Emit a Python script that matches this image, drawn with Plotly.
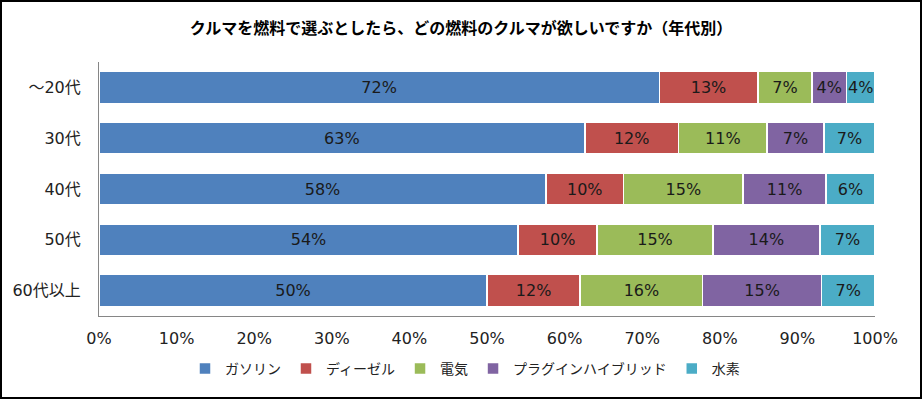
import plotly.graph_objects as go

categories = ["～20代", "30代", "40代", "50代", "60代以上"]
series_names = ["ガソリン", "ディーゼル", "電気", "プラグインハイブリッド", "水素"]
gasoline = [72.2, 62.6, 57.6, 54.0, 50.0]
diesel = [12.7, 12.1, 10.0, 10.2, 12.0]
electric = [7.0, 11.4, 15.4, 14.9, 15.8]
phev = [4.4, 7.3, 10.7, 13.8, 15.3]
hydrogen = [3.7, 6.6, 6.3, 7.1, 6.9]
x_ticks = [0, 10, 20, 30, 40, 50, 60, 70, 80, 90, 100]
x_tick_labels = [f"{v}%" for v in x_ticks]
title_text = "クルマを燃料で選ぶとしたら、どの燃料のクルマが欲しいですか（年代別）"

colors = ["#4F81BD", "#C0504D", "#9BBB59", "#8064A2", "#4BACC6"]
FONT = "Noto Sans CJK JP"
WFONT = "DejaVu Sans, Noto Sans CJK JP"

fig = go.Figure()
for name, vals, col in zip(series_names, [gasoline, diesel, electric, phev, hydrogen], colors):
    fig.add_trace(go.Bar(
        y=categories, x=vals, name=name, orientation="h",
        marker=dict(color=col, line=dict(color="white", width=1.5)),
        texttemplate="%{x:.0f}%", textposition="inside", insidetextanchor="middle",
        textangle=0, constraintext="none",
        textfont=dict(family=WFONT, size=16, color="#1a1a1a"),
        hoverinfo="skip",
    ))

W, H = 922, 399
ml, mr, mt, mb = 99, 47, 62, 83
pw, ph = W - ml - mr, H - mt - mb

fig.update_layout(
    barmode="stack",
    width=W, height=H,
    margin=dict(l=ml, r=mr, t=mt, b=mb),
    paper_bgcolor="white", plot_bgcolor="white",
    bargap=0.37,
    uniformtext=dict(minsize=16, mode="show"),
    title=dict(text=f"<b>{title_text}</b>", x=(461 / W), xanchor="center", y=1 - 28 / H, yanchor="middle",
               font=dict(family=FONT, size=16, color="black")),
    xaxis=dict(range=[0, 100], tickvals=x_ticks, ticktext=x_tick_labels, showgrid=False,
               zeroline=False, showline=True, linecolor="#868686", linewidth=1,
               tickfont=dict(family=WFONT, size=16, color="#222"), ticks="", ticklen=0,
               ticklabelstandoff=8),
    yaxis=dict(autorange="reversed", showgrid=False, showline=True, linecolor="#868686",
               linewidth=1, tickfont=dict(family=WFONT, size=16, color="#222"), ticks="",
               ticklabelstandoff=14),
    legend=dict(orientation="h", x=(465 - ml) / pw, xanchor="center", y=-(369 - (mt + ph)) / ph,
                yanchor="middle", font=dict(family=FONT, size=14, color="#222"),
                itemwidth=30, traceorder="normal", tracegroupgap=0),
    showlegend=True,
)

fig.add_shape(type="rect", xref="paper", yref="paper",
              x0=-(ml - 1) / pw, x1=1 + (mr - 1) / pw,
              y0=-(mb - 1) / ph, y1=1 + (mt - 1) / ph,
              line=dict(color="black", width=2), fillcolor="rgba(0,0,0,0)", layer="above")

fig.write_html("out.html", config={"displayModeBar": False},
               post_script="document.body.style.margin='0';document.body.style.padding='0';")
